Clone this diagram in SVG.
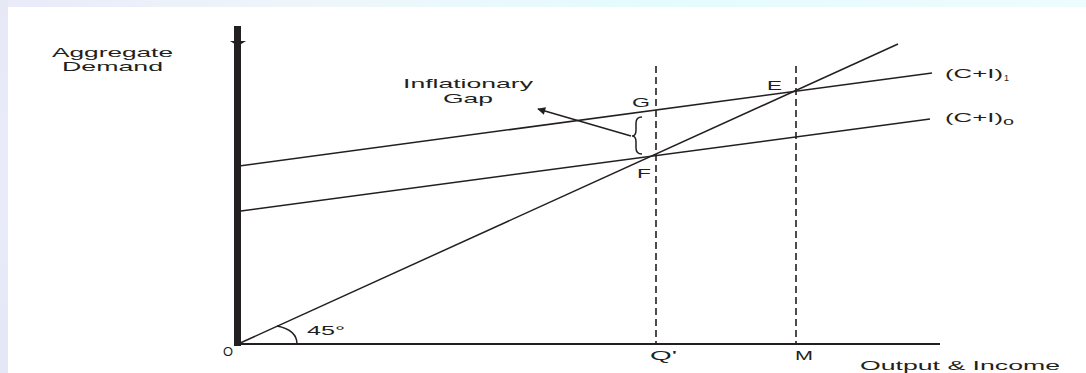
<svg xmlns="http://www.w3.org/2000/svg" width="1086" height="373" viewBox="0 0 1086 373">
<defs>
<linearGradient id="topg" x1="0" y1="0" x2="1" y2="0">
<stop offset="0" stop-color="#e9ebf8"/>
<stop offset="0.3" stop-color="#eef6fb"/>
<stop offset="0.6" stop-color="#e4fbfe"/>
<stop offset="1" stop-color="#eefcfe"/>
</linearGradient>
<linearGradient id="leftg" x1="0" y1="0" x2="0" y2="1">
<stop offset="0" stop-color="#e6e8f6"/>
<stop offset="0.5" stop-color="#e9ecf8"/>
<stop offset="1" stop-color="#e3e7f6"/>
</linearGradient>
<marker id="ah" viewBox="0 0 10 10" refX="9" refY="5" markerWidth="10" markerHeight="8" markerUnits="userSpaceOnUse" orient="auto">
<path d="M0,0 L10,5 L0,10 z" fill="#231f20"/>
</marker>
<style>
.t{font-family:"Liberation Sans",Arial,sans-serif;fill:#231f20;font-size:13px;}
.ln{stroke:#231f20;stroke-width:1.5;fill:none;}
.dash{stroke:#231f20;stroke-width:1.6;stroke-dasharray:7 4;fill:none;}
</style>
</defs>
<rect x="0" y="0" width="1086" height="373" fill="#ffffff"/>
<rect x="0" y="0" width="1086" height="7" fill="url(#topg)"/>
<rect x="0" y="0" width="8" height="373" fill="url(#leftg)"/>

<g id="axes">
<rect x="234" y="26" width="7" height="320" fill="#231f20"/>
<polygon points="230,41 246,41 238,46" fill="#231f20"/>
<line x1="238" y1="344" x2="940" y2="344" stroke="#231f20" stroke-width="2"/>
<path class="ln" d="M277,326 Q297,330 297,344"/>
</g>

<g id="connectors">
<line class="ln" x1="238" y1="344" x2="898" y2="44"/>
<line class="ln" x1="241" y1="165.7" x2="932" y2="73"/>
<line class="ln" x1="241" y1="211" x2="930" y2="119"/>
<line class="dash" x1="656" y1="66" x2="656" y2="343"/>
<line class="dash" x1="796" y1="66" x2="796" y2="343"/>
<path class="ln" d="M642,117 Q636,117 636,123 L636,130 Q636,136 632,136 Q636,136 636,142 L636,148 Q636,154 642,154"/>
<line class="ln" x1="631" y1="136" x2="538" y2="109" marker-end="url(#ah)"/>
</g>

<g id="labels">
<text class="t" x="52" y="57" textLength="121" lengthAdjust="spacingAndGlyphs">Aggregate</text>
<text class="t" x="62" y="71" textLength="101" lengthAdjust="spacingAndGlyphs">Demand</text>
<text class="t" x="403" y="88" textLength="130" lengthAdjust="spacingAndGlyphs">Inflationary</text>
<text class="t" x="443" y="103" textLength="50" lengthAdjust="spacingAndGlyphs">Gap</text>
<text class="t" x="632" y="107" textLength="18" lengthAdjust="spacingAndGlyphs">G</text>
<text class="t" x="637" y="178" textLength="14" lengthAdjust="spacingAndGlyphs">F</text>
<text class="t" x="767" y="90" textLength="15" lengthAdjust="spacingAndGlyphs">E</text>
<text class="t" x="945" y="78" textLength="58" lengthAdjust="spacingAndGlyphs">(C+I)</text>
<text class="t" x="1004" y="81" style="font-size:9px">1</text>
<text class="t" x="945" y="122" textLength="58" lengthAdjust="spacingAndGlyphs">(C+I)</text>
<text class="t" x="1003" y="125" style="font-size:11px" textLength="11" lengthAdjust="spacingAndGlyphs">o</text>
<text class="t" x="307" y="335" textLength="38" lengthAdjust="spacingAndGlyphs">45°</text>
<text class="t" x="223" y="356" style="font-size:12px" textLength="10" lengthAdjust="spacingAndGlyphs">O</text>
<text class="t" x="650" y="360" textLength="27" lengthAdjust="spacingAndGlyphs">Q'</text>
<text class="t" x="795" y="360" textLength="18" lengthAdjust="spacingAndGlyphs">M</text>
<text class="t" x="860" y="370" textLength="200" lengthAdjust="spacingAndGlyphs">Output &amp; Income</text>
</g>
</svg>
